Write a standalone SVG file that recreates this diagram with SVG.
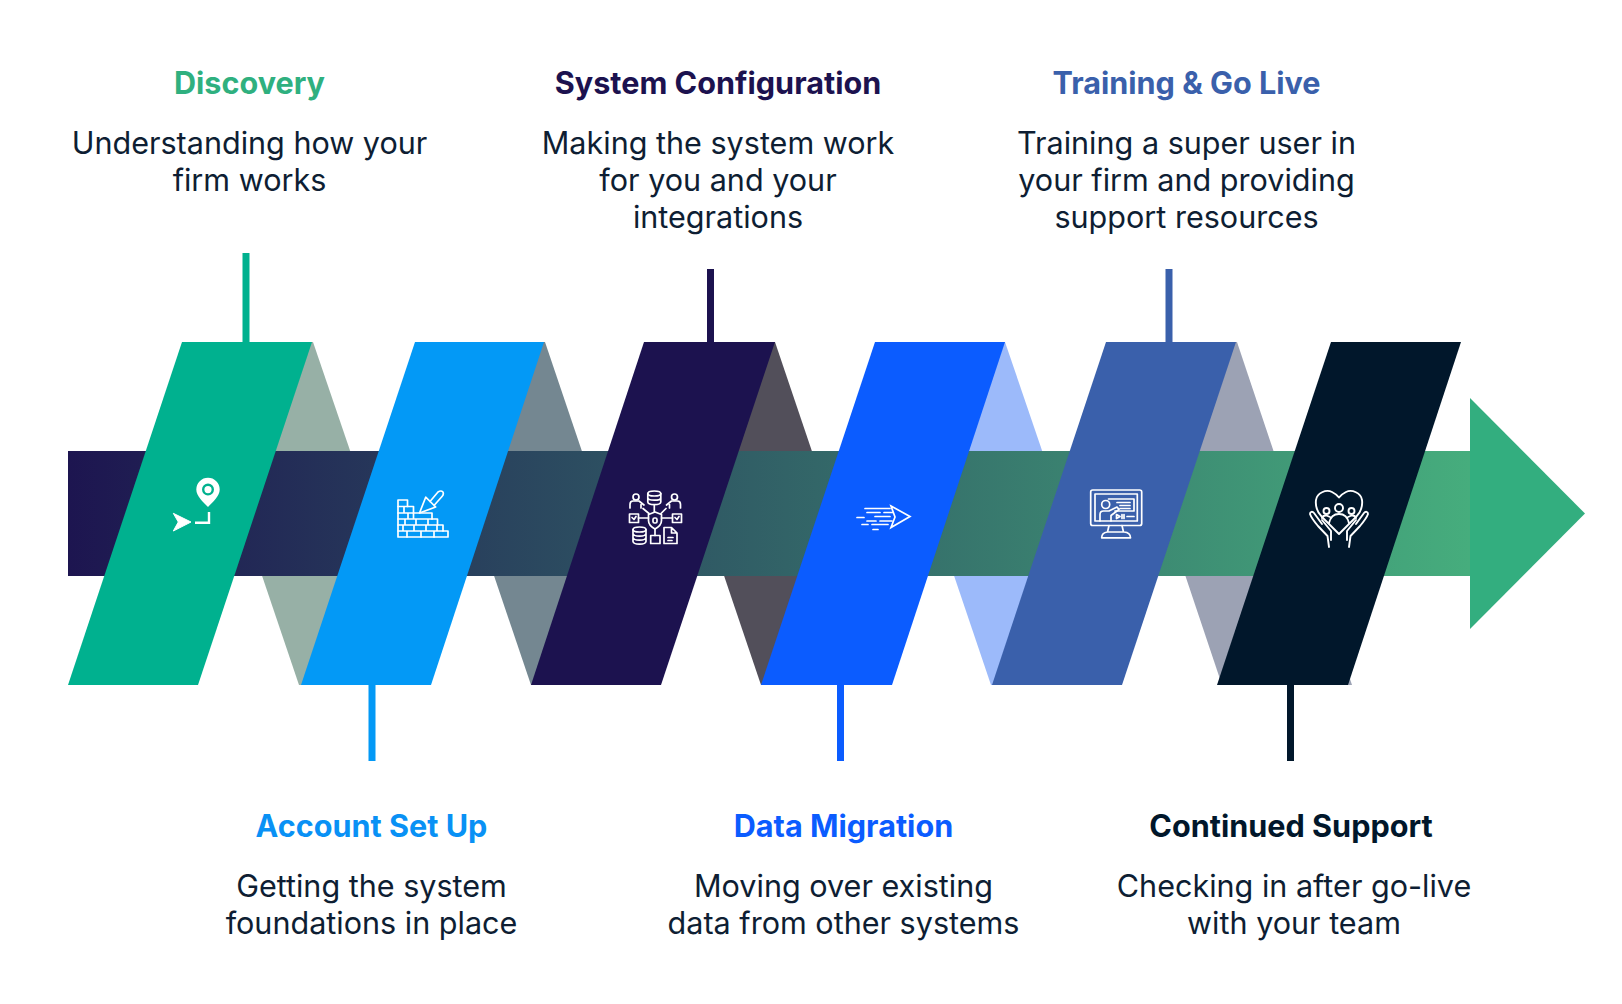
<svg xmlns="http://www.w3.org/2000/svg" width="1622" height="1004" viewBox="0 0 1622 1004">
<style>
text{font-family:Inter,"Liberation Sans",sans-serif;text-anchor:middle}
.t{font-size:30.600px;font-weight:700}
.b{font-size:30.550px;font-weight:400;fill:#0e1e33}
.i{fill:none;stroke:#fff;stroke-width:1.700;stroke-linejoin:round;stroke-linecap:round}
.i2{fill:none;stroke:#fff;stroke-width:1.900;stroke-linejoin:round;stroke-linecap:round}
</style>
<defs><linearGradient id="g" gradientUnits="userSpaceOnUse" x1="68" y1="0" x2="1470" y2="0"><stop offset="0" stop-color="#1d1550"/><stop offset="1" stop-color="#46ad7d"/></linearGradient></defs>
<rect width="1622" height="1004" fill="#fff"/>
<g id="backs">
<polygon points="183,342 313,342 430,685 299,685" fill="#97b0a6"/>
<polygon points="415,342 545,342 661,685 531,685" fill="#748791"/>
<polygon points="645,342 775,342 891,685 761,685" fill="#524f5a"/>
<polygon points="875,342 1005,342 1122,685 991,685" fill="#9cbafa"/>
<polygon points="1107,342 1237,342 1352,685 1222,685" fill="#9ca2b4"/>
</g>
<g id="spine">
<rect x="68" y="451" width="1402" height="125" fill="url(#g)"/>
<polygon points="1470,398 1585,513.500 1470,629" fill="#33ae7f"/>
</g>
<g id="connectors">
<rect x="242.500" y="253" width="7" height="89" fill="#00b18f"/>
<rect x="368.500" y="685" width="7" height="76" fill="#0399f6"/>
<rect x="707" y="269" width="7" height="73" fill="#1c124f"/>
<rect x="837" y="685" width="7" height="76" fill="#0b5cff"/>
<rect x="1165.500" y="269" width="7" height="73" fill="#3a60ab"/>
<rect x="1287" y="685" width="7" height="76" fill="#01172b"/>
</g>
<g id="discovery">
<polygon points="182,342 312,342 198,685 68,685" fill="#00b18f"/>
<g transform="translate(0,1)">
<path d="M208,476.800a11.700,11.700 0 0 1 11.700,11.700c0,6.500-6.700,12.500-11.700,17.500c-5-5-11.700-11-11.700-17.500a11.700,11.700 0 0 1 11.700-11.700z" fill="#fff"/>
<circle cx="208" cy="488.600" r="4.800" fill="#fff" stroke="#00b18f" stroke-width="2.400"/>
<polygon points="173.300,512.300 191,521 173.300,530 178.300,521" fill="#fff" stroke="#fff" stroke-width="1" stroke-linejoin="round"/>
<path d="M195,521.700H209V511" fill="none" stroke="#fff" stroke-width="2.400"/>
</g>
<text class="t" x="249.500" y="94" fill="#2fb07f">Discovery</text>
<text class="b" x="249.500" y="154">Understanding how your</text>
<text class="b" x="249.500" y="191">firm works</text>
</g>
<g id="account-set-up">
<polygon points="415,342 544,342 431,685 301,685" fill="#0399f6"/>
<g transform="translate(0,0.500)">
<path class="i" d="M398,536.500V499.500H407.500V506H413.500V512.500H432V518.500H437.500V524.500H443V530.500H448V536.500Z"/>
<path class="i" d="M398,506H407.500M398,512.500H413.500M398,518.500H432M398,524.500H437.500M398,530.500H443M404,506V512.500M408,512.500V518.500M413.500,512.500V518.500M405,518.500V524.500M416,518.500V524.500M428,518.500V524.500M403,524.500V530.500M414,524.500V530.500M426,524.500V530.500M437,524.500V530.500M407,530.500V536.500M421,530.500V536.500M434,530.500V536.500"/>
<path class="i" d="M419.500,512.500L425.700,496.700L435.700,506.500ZM430,501L438,491.500Q441,489.500 443,491.500Q444,494 442,496L434,505"/>
</g>
<text class="t" x="371.500" y="837" fill="#0991f5">Account Set Up</text>
<text class="b" x="371.500" y="897">Getting the system</text>
<text class="b" x="371.500" y="934">foundations in place</text>
</g>
<g id="system-configuration">
<polygon points="644,342 775,342 661,685 531,685" fill="#1c124f"/>
<g class="i" transform="translate(0,0.500)">
<ellipse cx="654.300" cy="493" rx="6.500" ry="2.500"/><path d="M647.800,493V501.500C648,505 660.500,505 660.800,501.500V493M647.800,497.300C648,500.500 660.500,500.500 660.800,497.300"/>
<circle cx="636" cy="496.500" r="3"/><path d="M630,507.500V504Q630,500.500 633,500.500H639L644,504.500M641,504V507.500"/>
<circle cx="674.500" cy="496.500" r="3"/><path d="M680.500,507.500V504Q680.500,500.500 677.500,500.500H671.500L666.500,504.500M669.500,504V507.500"/>
<rect x="629.500" y="513.500" width="9" height="8.500"/><path d="M632,517L634,519L636,516"/>
<rect x="672.500" y="513.500" width="9" height="8.500"/><path d="M675,517L677,519L679,516"/>
<path d="M655,511.500L661.500,514V520Q661.500,525 655,528.500Q648.500,525 648.500,520V514Z"/><rect x="653" y="517.500" width="4" height="5" rx="1.500"/>
<path d="M654.300,505V511.500M638.500,517.500H648.500M661.500,517.500H672.500M643,508L649,513M666,508L661,513M655,528.500V535"/>
<ellipse cx="639.500" cy="529" rx="6.500" ry="2.500"/><path d="M633,529V541C633.500,544.500 645.500,544.500 646,541V529M633,533C633.500,536.500 645.500,536.500 646,533M633,537C633.500,540.500 645.500,540.500 646,537"/>
<rect x="650.700" y="535" width="9.300" height="8"/>
<path d="M664,543V527H671.500L677,532.500V543ZM671.500,527V532.500H677M668,537H673M668,540H672"/>
</g>
<text class="t" x="718" y="94" fill="#1c124f">System Configuration</text>
<text class="b" x="718" y="154">Making the system work</text>
<text class="b" x="718" y="191">for you and your</text>
<text class="b" x="718" y="228">integrations</text>
</g>
<g id="data-migration">
<polygon points="875,342 1005,342 892,685 761,685" fill="#0b5cff"/>
<g transform="translate(0,1.500)">
<path class="i" d="M891,504.500L910,515L891,526L895,515.500Z" style="stroke-linejoin:miter"/>
<path class="i" d="M865,507H890M867,511H880M884,511H893M875,515H890M857,516H864M867,519.500H876M880,519.500H892M862,523H868M872,523H888M873,528H878"/>
</g>
<text class="t" x="843.500" y="837" fill="#0b5cff">Data Migration</text>
<text class="b" x="843.500" y="897">Moving over existing</text>
<text class="b" x="843.500" y="934">data from other systems</text>
</g>
<g id="training-go-live">
<polygon points="1106,342 1236,342 1122,685 992,685" fill="#3a60ab"/>
<g class="i" transform="translate(0,0.500)">
<rect x="1090.700" y="489.500" width="51" height="35.500" rx="2"/>
<rect x="1095" y="493.500" width="42.300" height="27"/>
<path d="M1108.500,498.500H1134V510.500H1115"/>
<path d="M1117,502H1130M1120,505H1130M1120,508H1130"/>
<circle cx="1105.700" cy="504" r="4"/>
<path d="M1100,520.500V514Q1100,510.500 1103.500,510.500H1109L1117,506.500L1119,509L1111,515V520.500"/>
<path d="M1116.500,514L1120,516L1116.500,518ZM1122,514V518M1124,514V518M1127,516H1134"/>
<path d="M1109,525L1107.500,531.500M1122,525L1123.500,531.500M1107.500,531.500H1124Q1130.500,532 1130.500,537.300H1101.700Q1101.700,532 1107.500,531.500Z"/>
</g>
<text class="t" x="1186.500" y="94" fill="#3a60ab">Training &amp; Go Live</text>
<text class="b" x="1186.500" y="154">Training a super user in</text>
<text class="b" x="1186.500" y="191">your firm and providing</text>
<text class="b" x="1186.500" y="228">support resources</text>
</g>
<g id="continued-support">
<polygon points="1331,342 1461,342 1348,685 1217,685" fill="#01172b"/>
<g class="i2" transform="translate(0,1)">
<path d="M1322,516C1316,510 1315.500,503 1316,499C1317,492 1326,488 1332,491C1335,492.500 1337.500,494.500 1339,496.500C1340.500,494.500 1343,492.500 1346,491C1352,488 1361,492 1362,499C1362.500,503 1362,510 1356,516L1339,533L1322,516Z"/>
<circle cx="1339" cy="507" r="4"/><circle cx="1326.500" cy="510" r="3"/><circle cx="1351.500" cy="510" r="3"/>
<path d="M1329,522Q1331,513 1339,513Q1347,513 1349,522M1322,517Q1323,514 1326.500,514.500L1330,516M1356,517Q1355,514 1351.500,514.500L1348,516"/>
<path d="M1329,546L1327.500,535L1318,525C1313,519 1311,516 1310,513C1310,510.500 1312.500,510 1314,512L1322,523M1331,539L1331,530L1322,519"/>
<path d="M1349,546L1350.500,535L1360,525C1365,519 1367,516 1368,513C1368,510.500 1365.500,510 1364,512L1356,523M1347,539L1347,530L1356,519"/>
</g>
<text class="t" x="1291" y="837" fill="#01172b">Continued Support</text>
<text class="b" x="1294" y="897">Checking in after go-live</text>
<text class="b" x="1294" y="934">with your team</text>
</g>
</svg>
